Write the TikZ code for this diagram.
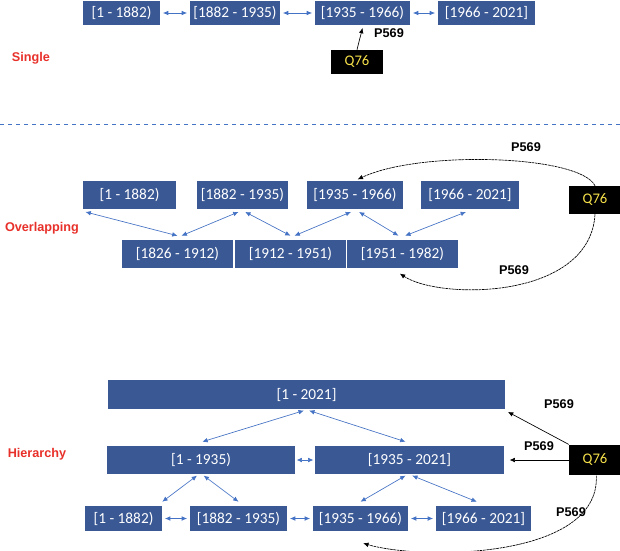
\documentclass[tikz,border=0pt]{standalone}
\usepackage{fontspec}
\setmainfont{Carlito}
\newfontfamily\arialb{Liberation Sans}
\usetikzlibrary{arrows.meta}
\definecolor{boxc}{HTML}{3A5894}
\definecolor{arrc}{HTML}{4472C4}
\definecolor{redl}{HTML}{E8302A}
\definecolor{qy}{HTML}{F5E04A}
\tikzset{
 bx/.style={fill=boxc,text=white,inner sep=0,font=\fontsize{11.5}{12}\selectfont},
 qb/.style={fill=black,text=qy,inner sep=0,font=\fontsize{11}{12}\selectfont,minimum width=39pt},
 lab/.style={text=redl,font=\arialb\bfseries\fontsize{9.5}{10}\selectfont},
 pl/.style={font=\arialb\bfseries\fontsize{9.5}{10}\selectfont},
 ba/.style={arrc,{Latex[length=4pt,width=3.5pt]}-{Latex[length=4pt,width=3.5pt]},line width=0.5pt},
 ka/.style={black,-{Latex[length=4pt,width=3.5pt]},line width=0.5pt},
 kd/.style={black,densely dashed,dash pattern=on 2pt off 0.5pt,-{Latex[length=4pt,width=3.5pt]},line width=0.5pt}
}
\newcommand\bxn[6]{\node[#6,minimum width={(#4-#2)*0.75pt},minimum height={(#5-#3)*0.75pt}] (#1) at ({(#2+#4)/2},{(#3+#5)/2}) {};}
\begin{document}
\begin{tikzpicture}[x=0.75pt,y=-0.75pt]
\useasboundingbox (0,0) rectangle (620,550);
% Single
\node[bx,minimum width=57.75pt,minimum height=18pt] (s1) at (121.5,13) {[1 - 1882)};
\node[bx,minimum width=67.5pt,minimum height=18pt] (s2) at (235,13) {[1882 - 1935)};
\node[bx,minimum width=71.25pt,minimum height=18pt] (s3) at (362.5,13) {[1935 - 1966)};
\node[bx,minimum width=72.75pt,minimum height=18pt] (s4) at (486.5,13) {[1966 - 2021]};
\node[qb,minimum height=18pt] (sq) at (357,62) {Q76};
\draw[ba] (s1.east)++(2pt,0) -- ([xshift=-2pt]s2.west);
\draw[ba] ([xshift=2pt]s2.east) -- ([xshift=-2pt]s3.west);
\draw[ba] ([xshift=2pt]s3.east) -- ([xshift=-2pt]s4.west);
\draw[ka] (sq.north) -- ([yshift=-2pt]s3.south);
\node[pl] (sp) at (389,33) {P569};
\node[lab] (ls) at (31,58) {Single};
\coordinate (dl) at (0,124); \coordinate (dr) at (620,124);
\draw[arrc,dashed,line width=0.6pt] (dl) -- (dr);
% Overlapping
\node[bx,minimum width=69.75pt,minimum height=21pt] (o1) at (129.5,195) {[1 - 1882)};
\node[bx,minimum width=68.25pt,minimum height=21pt] (o2) at (242.5,195) {[1882 - 1935)};
\node[bx,minimum width=72pt,minimum height=21pt] (o3) at (355,195) {[1935 - 1966)};
\node[bx,minimum width=73.5pt,minimum height=21pt] (o4) at (470,195) {[1966 - 2021]};
\node[bx,minimum width=83.25pt,minimum height=21pt] (o5) at (177.5,254) {[1826 - 1912)};
\node[bx,minimum width=83.25pt,minimum height=21pt] (o6) at (290.5,254) {[1912 - 1951)};
\node[bx,minimum width=83.25pt,minimum height=21pt] (o7) at (402.5,254) {[1951 - 1982)};
\node[qb,minimum height=21pt] (oq) at (595,200) {Q76};
\draw[ba] ([xshift=-33pt,yshift=-2pt]o1.south) -- ([yshift=3pt]o5.north);
\draw[ba] ([xshift=-3pt,yshift=-2pt]o2.south) -- ([xshift=3pt,yshift=3pt]o5.north);
\draw[ba] ([xshift=2pt,yshift=-2pt]o2.south) -- ([yshift=3pt]o6.north);
\draw[ba] ([xshift=-3pt,yshift=-2pt]o3.south) -- ([xshift=3pt,yshift=3pt]o6.north);
\draw[ba] ([xshift=3pt,yshift=-2pt]o3.south) -- ([xshift=-3pt,yshift=3pt]o7.north);
\draw[ba] ([xshift=-3pt,yshift=-2pt]o4.south) -- ([xshift=2pt,yshift=3pt]o7.north);
\draw[kd] (oq.north) .. controls (580,155) and (420,150) .. ([xshift=2pt,yshift=1pt]o3.north);
\draw[kd] (oq.south) .. controls (590,300) and (440,300) .. ([xshift=-2pt,yshift=-4pt]o7.south);
\node[pl] (op1) at (526,147) {P569};
\node[pl] (op2) at (514,270) {P569};
\node[lab] (lo) at (42,228) {Overlapping};
% Hierarchy
\node[bx,minimum width=297.75pt,minimum height=21.75pt] (h0) at (306.5,394.5) {[1 - 2021]};
\node[bx,minimum width=141pt,minimum height=21pt] (h1) at (201,460) {[1 - 1935)};
\node[bx,minimum width=141.75pt,minimum height=21pt] (h2) at (409.5,460) {[1935 - 2021]};
\node[bx,minimum width=57.75pt,minimum height=18.75pt] (h3) at (123.5,518.5) {[1 - 1882)};
\node[bx,minimum width=72.75pt,minimum height=18.75pt] (h4) at (238.5,518.5) {[1882 - 1935)};
\node[bx,minimum width=71.25pt,minimum height=18.75pt] (h5) at (360.5,518.5) {[1935 - 1966)};
\node[bx,minimum width=71.25pt,minimum height=18.75pt] (h6) at (483.5,518.5) {[1966 - 2021]};
\node[qb,minimum height=23pt] (hq) at (595,460) {Q76};
\draw[ba] ([xshift=-2pt,yshift=-1pt]h0.south) -- ([xshift=1pt,yshift=3pt]h1.north);
\draw[ba] ([xshift=2pt,yshift=-1pt]h0.south) -- ([xshift=-3pt,yshift=3pt]h2.north);
\draw[ba] ([xshift=1pt]h1.east) -- ([xshift=-1pt]h2.west);
\draw[ba] ([xshift=-3pt,yshift=-1pt]h1.south) -- ([yshift=3pt]h3.north east);
\draw[ba] ([xshift=2pt,yshift=-1pt]h1.south) -- ([yshift=3pt]h4.north);
\draw[ba] ([xshift=-3pt,yshift=-1pt]h2.south) -- ([yshift=3pt]h5.north);
\draw[ba] ([xshift=2pt,yshift=-1pt]h2.south) -- ([xshift=-5pt,yshift=3pt]h6.north);
\draw[ba] ([xshift=2pt]h3.east) -- ([xshift=-2pt]h4.west);
\draw[ba] ([xshift=2pt]h4.east) -- ([xshift=-2pt]h5.west);
\draw[ba] ([xshift=2pt]h5.east) -- ([xshift=-2pt]h6.west);
\draw[ka] (hq.north west) -- ([xshift=2pt,yshift=-2pt]h0.south east);
\draw[ka] (hq.west) -- ([xshift=4pt]h2.east);
\draw[kd] ([xshift=1pt]hq.south) .. controls (600,560) and (420,560) .. ([xshift=2pt,yshift=-9pt]h5.south);
\node[pl] (hp1) at (559,404) {P569};
\node[pl] (hp2) at (539,446) {P569};
\node[pl] (hp3) at (571,512) {P569};
\node[lab] (lh) at (37,454) {Hierarchy};
\end{tikzpicture}
\end{document}
